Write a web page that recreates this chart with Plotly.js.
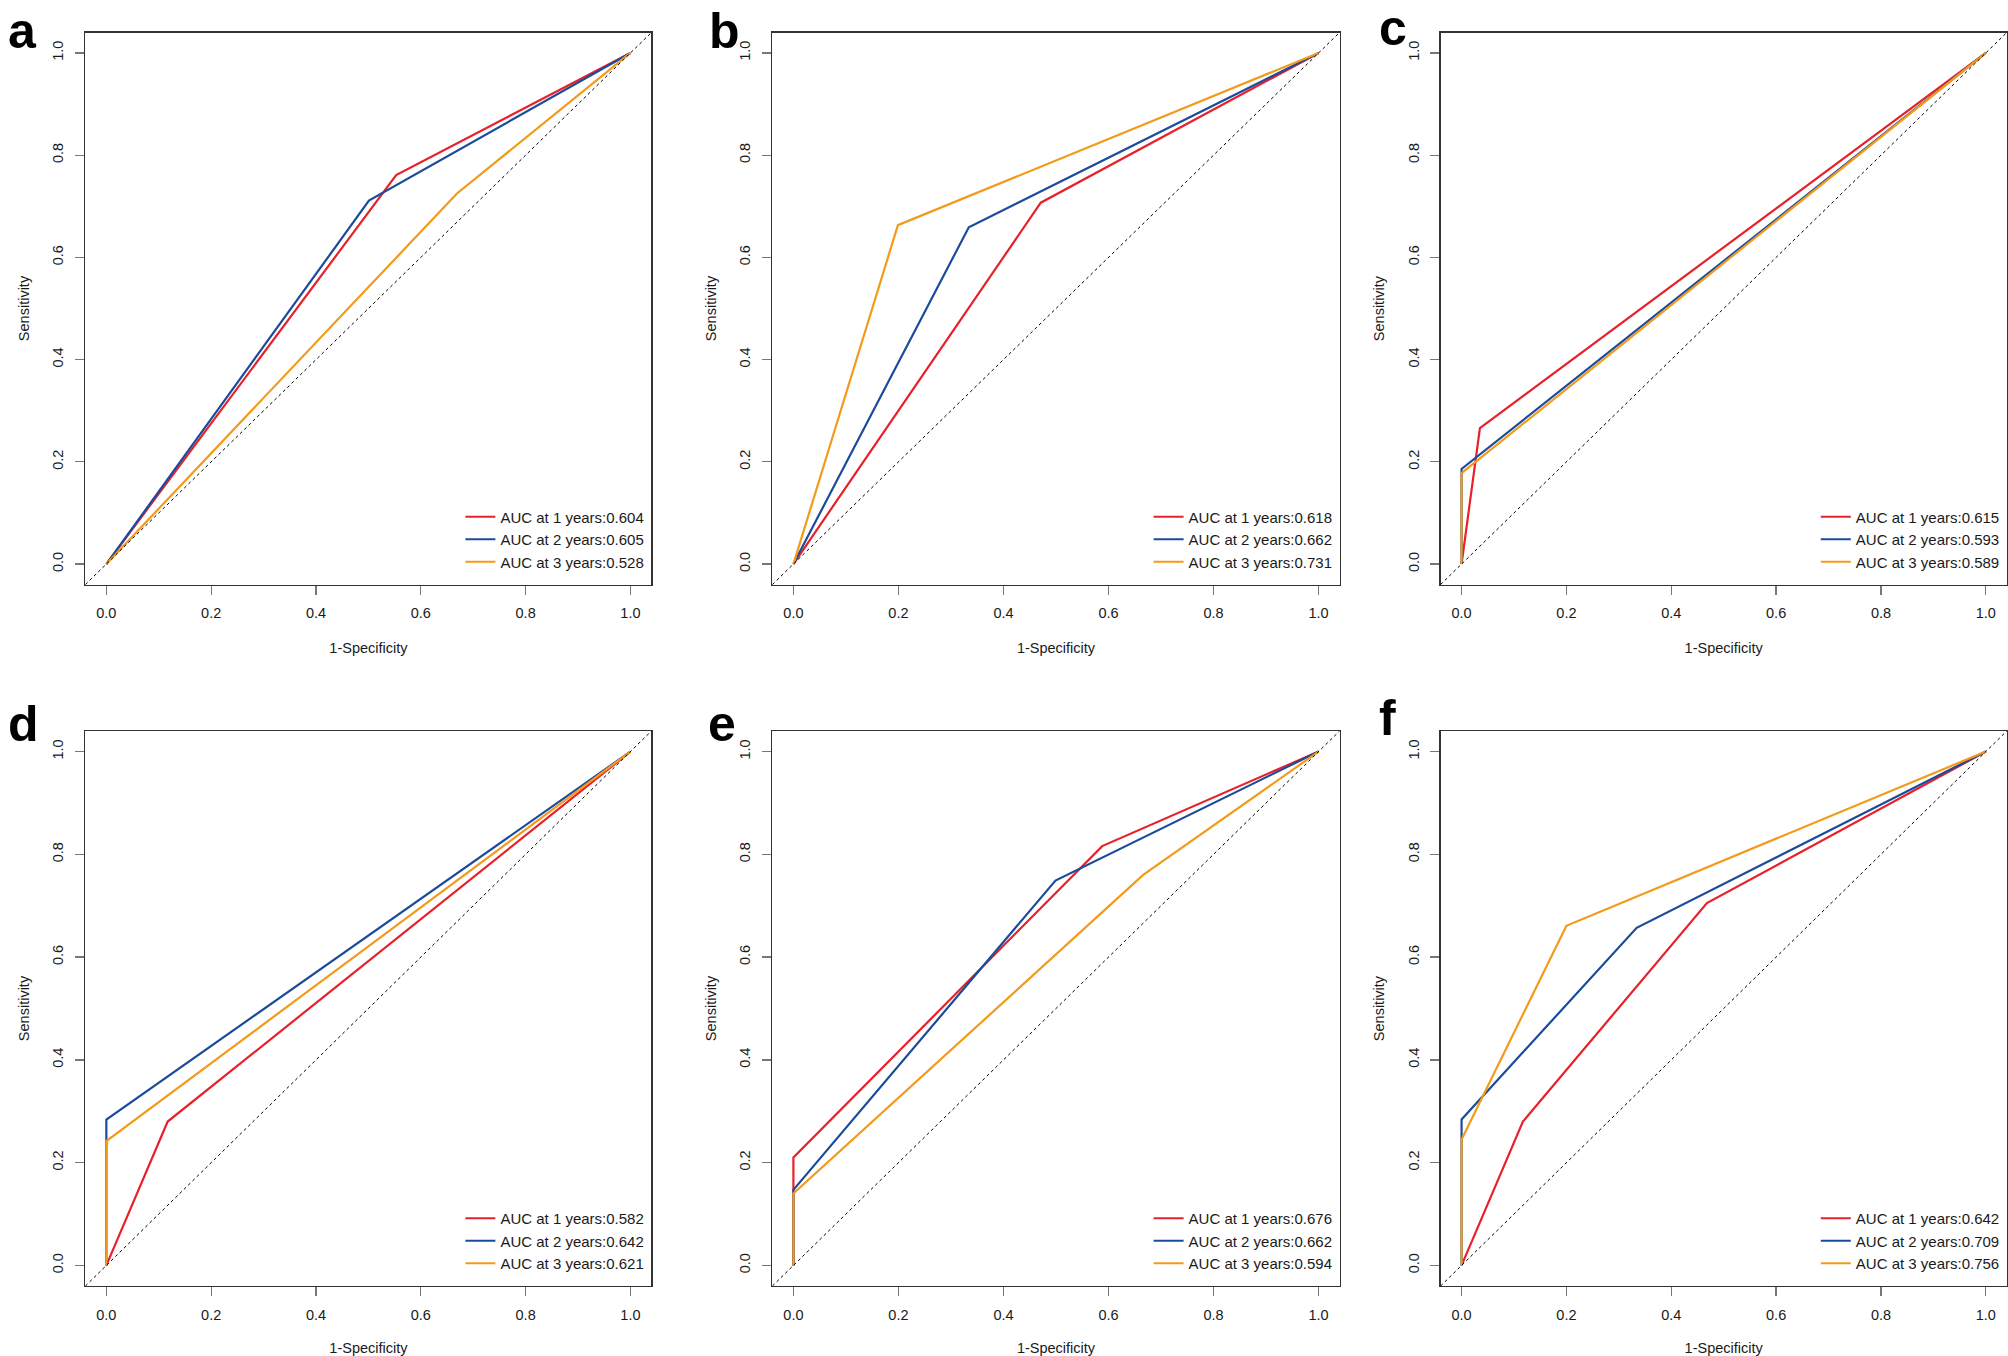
<!DOCTYPE html>
<html>
<head>
<meta charset="utf-8">
<script src="https://cdn.plot.ly/plotly-3.0.1.min.js"></script>
<style>
  html, body { margin: 0; padding: 0; background: #ffffff; }
  #chart { width: 2008px; height: 1356px; }
</style>
</head>
<body>
<div id="chart"></div>
<script>
// ---- Data ----
const panelLetters = ['a', 'b', 'c', 'd', 'e', 'f'];
const yearLabels = ['1', '2', '3'];
const seriesColors = ['#E8202A', '#1B4B9B', '#F39A1B'];

// 1-Specificity (FPR) and Sensitivity (TPR) per panel, one array per year
const fprA = [[0, 0.553, 1], [0, 0.501, 1], [0, 0.669, 1]];
const tprA = [[0, 0.761, 1], [0, 0.711, 1], [0, 0.725, 1]];
const aucA = ['0.604', '0.605', '0.528'];

const fprB = [[0, 0.471, 1], [0, 0.334, 1], [0, 0.199, 1]];
const tprB = [[0, 0.707, 1], [0, 0.659, 1], [0, 0.663, 1]];
const aucB = ['0.618', '0.662', '0.731'];

const fprC = [[0, 0.035, 1], [0, 0, 1], [0, 0, 1]];
const tprC = [[0, 0.266, 1], [0, 0.186, 1], [0, 0.178, 1]];
const aucC = ['0.615', '0.593', '0.589'];

const fprD = [[0, 0.117, 1], [0, 0, 1], [0, 0, 1]];
const tprD = [[0, 0.280, 1], [0, 0.284, 1], [0, 0.242, 1]];
const aucD = ['0.582', '0.642', '0.621'];

const fprE = [[0, 0, 0.588, 1], [0, 0, 0.499, 1], [0, 0, 0.666, 1]];
const tprE = [[0, 0.210, 0.816, 1], [0, 0.147, 0.749, 1], [0, 0.140, 0.760, 1]];
const aucE = ['0.676', '0.662', '0.594'];

const fprF = [[0, 0.117, 0.468, 1], [0, 0, 0.334, 1], [0, 0, 0.200, 1]];
const tprF = [[0, 0.280, 0.705, 1], [0, 0.284, 0.657, 1], [0, 0.245, 0.661, 1]];
const aucF = ['0.642', '0.709', '0.756'];

const tickVals = [0, 0.2, 0.4, 0.6, 0.8, 1.0];
const tickText = ['0.0', '0.2', '0.4', '0.6', '0.8', '1.0'];
const xTitle = '1-Specificity';
const yTitle = 'Sensitivity';

// ---- Build figure ----
const panels = [
  {fpr: fprA, tpr: tprA, auc: aucA},
  {fpr: fprB, tpr: tprB, auc: aucB},
  {fpr: fprC, tpr: tprC, auc: aucC},
  {fpr: fprD, tpr: tprD, auc: aucD},
  {fpr: fprE, tpr: tprE, auc: aucE},
  {fpr: fprF, tpr: tprF, auc: aucF}
];

const W = 2008, H = 1356;
// plot boxes in pixels [left, right] and [top, bottom]
const colPx = [[85.4, 651.4], [772.4, 1339.6], [1440.6, 2006.8]];
const rowPx = [[32.5, 584.5], [731, 1286]];
// panel letter positions: [left x, baseline y]
const letterPos = [[6, 50], [707, 50], [1377, 46.5], [6, 743], [706, 743], [1377, 737]];

const FONT = 'Liberation Sans, Arial, Helvetica, sans-serif';
const traces = [];
const layout = {
  width: W, height: H,
  margin: {l: 0, r: 0, t: 0, b: 0},
  paper_bgcolor: '#ffffff',
  plot_bgcolor: '#ffffff',
  font: {family: FONT, size: 14.5, color: '#1a1a1a'},
  shapes: [],
  annotations: [],
  showlegend: true
};

panels.forEach((p, i) => {
  const row = Math.floor(i / 3), col = i % 3;
  const xid = i === 0 ? 'x' : 'x' + (i + 1);
  const yid = i === 0 ? 'y' : 'y' + (i + 1);
  const xKey = i === 0 ? 'xaxis' : 'xaxis' + (i + 1);
  const yKey = i === 0 ? 'yaxis' : 'yaxis' + (i + 1);
  const legKey = i === 0 ? 'legend' : 'legend' + (i + 1);
  const [l, r] = colPx[col];
  const [t, b] = rowPx[row];

  const axCommon = {
    range: [-0.04, 1.04],
    tickmode: 'array', tickvals: tickVals, ticktext: tickText,
    ticks: 'outside', ticklen: 9, tickwidth: 1.3, tickcolor: '#777777',
    showline: true, linecolor: '#333333', linewidth: 1.2, mirror: true,
    showgrid: false, zeroline: false, fixedrange: true,
    tickfont: {family: FONT, size: 14.5, color: '#1a1a1a'},
    ticklabelstandoff: 6
  };
  layout[xKey] = Object.assign({}, axCommon, {
    domain: [l / W, r / W], anchor: yid,
    title: {text: xTitle, font: {family: FONT, size: 14.5, color: '#1a1a1a'}, standoff: 22}
  });
  layout[yKey] = Object.assign({}, axCommon, {
    domain: [1 - b / H, 1 - t / H], anchor: xid,
    tickangle: -90,
    title: {text: yTitle, font: {family: FONT, size: 14.5, color: '#1a1a1a'}, standoff: 17}
  });

  // diagonal reference line across the whole box
  layout.shapes.push({
    type: 'line', xref: xid + ' domain', yref: yid + ' domain',
    x0: 0, y0: 0, x1: 1, y1: 1,
    line: {color: '#000000', width: 1, dash: '3px,3px'}
  });

  for (let k = 0; k < 3; k++) {
    traces.push({
      type: 'scatter', mode: 'lines',
      x: p.fpr[k], y: p.tpr[k],
      xaxis: xid, yaxis: yid,
      name: 'AUC at ' + yearLabels[k] + ' years:' + p.auc[k],
      legend: legKey,
      line: {color: seriesColors[k], width: 2.2},
      hoverinfo: 'skip'
    });
  }

  layout[legKey] = {
    x: (r - 2) / W, xanchor: 'right',
    y: 1 - (b - 6) / H, yanchor: 'bottom',
    bgcolor: 'rgba(0,0,0,0)', borderwidth: 0,
    font: {family: FONT, size: 15, color: '#1a1a1a'},
    itemwidth: 30, tracegroupgap: 0
  };

  layout.annotations.push({
    text: '<b>' + panelLetters[i] + '</b>',
    xref: 'paper', yref: 'paper',
    x: letterPos[i][0] / W, y: 1 - letterPos[i][1] / H,
    xanchor: 'left', yanchor: 'bottom', yshift: -11,
    showarrow: false,
    font: {family: FONT, size: 50, color: '#000000'}
  });
});

Plotly.newPlot('chart', traces, layout, {staticPlot: true, displayModeBar: false});
</script>
</body>
</html>
